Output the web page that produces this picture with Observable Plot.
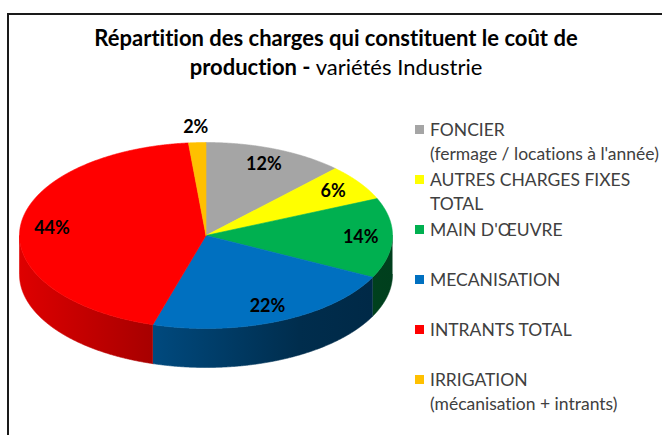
<!DOCTYPE html>
<html><head><meta charset="utf-8">
<script src="https://cdn.jsdelivr.net/npm/d3@7"></script>
<script src="https://cdn.jsdelivr.net/npm/@observablehq/plot@0.6"></script>
<style>
html,body{margin:0;padding:0;background:#fff;width:662px;height:435px;overflow:hidden;font-family:Lato,"Open Sans",sans-serif;font-variant-ligatures:none;}
#frame{position:absolute;left:7px;top:13px;width:720px;height:520px;border:2.5px solid #1a1a1a;box-sizing:border-box;}
#title{position:absolute;left:0;top:24px;width:672px;text-align:center;font-size:22px;line-height:28.5px;color:#000;}
#title b{font-weight:700;}
#chart{position:absolute;left:0;top:0;}
#legend{position:absolute;left:415px;top:0;}
.item{position:absolute;left:0;white-space:nowrap;font-size:17.5px;line-height:23.5px;color:#404040;}
.sw{position:absolute;left:0;top:7px;width:9px;height:9px;}
.lbl{position:absolute;left:15px;top:0;white-space:pre;}
</style></head>
<body>
<div id="frame"></div>
<div id="title"><b>Répartition des charges qui constituent le coût de<br>production -</b> variétés Industrie</div>
<div id="chart"></div>
<div id="legend"></div>
<script>
// ---- data ----
const categories = [
  "FONCIER\n(fermage / locations à l'année)",
  "AUTRES CHARGES FIXES\nTOTAL",
  "MAIN D'ŒUVRE",
  "MECANISATION",
  "INTRANTS TOTAL",
  "IRRIGATION\n(mécanisation + intrants)"
];
const shares = [12.2, 6.3, 13.9, 22.2, 43.9, 1.5];
const labels = ["12%", "6%", "14%", "22%", "44%", "2%"];
const colors = ["#a5a5a5", "#ffff00", "#00b050", "#0070c0", "#ff0000", "#ffc000"];

// ---- layout ----
const W = 662, H = 435;
const cx = 205.5, cy = 235, rx = 186.5, ry = 93, depth = 39;
const d = depth / ry;
const arcs = d3.pie().sort(null).value(v => v)(shares);
const step = Math.PI / 720;

function arcPts(a0, a1, off, k) {
  const n = Math.max(2, Math.ceil(Math.abs(a1 - a0) / step));
  const pts = [];
  for (let i = 0; i <= n; i++) {
    const a = a0 + (a1 - a0) * i / n;
    pts.push({x: Math.sin(a), y: Math.cos(a) - off, k});
  }
  return pts;
}

const topFaces = arcs.map((a, k) => [{x: 0, y: 0, k}, ...arcPts(a.startAngle, a.endAngle, 0, k), {x: 0, y: 0, k}]);
const walls = arcs.map((a, k) => {
  const s = Math.max(a.startAngle, Math.PI / 2), e = Math.min(a.endAngle, 3 * Math.PI / 2);
  if (s >= e) return null;
  return [...arcPts(s, e, 0, k), ...arcPts(e, s, d, k)];
}).filter(Boolean);

const labelData = arcs.map((a, k) => {
  const m = (a.startAngle + a.endAngle) / 2;
  const r = shares[k] < 3 ? 1.17 : 0.83;
  return {x: r * Math.sin(m), y: r * Math.cos(m), t: labels[k]};
});

const shade = [[0, 0.87], [0.35, 0.66], [0.75, 0.40], [1, 0.36]];

const defsMark = (index, scales) => {
  const x1 = scales && scales.x ? scales.x(-1) : cx - rx;
  const x2 = scales && scales.x ? scales.x(1) : cx + rx;
  const defs = d3.create("svg:defs");
  colors.forEach((c, k) => {
    const g = defs.append("linearGradient").attr("id", "wall" + k)
      .attr("gradientUnits", "userSpaceOnUse")
      .attr("x1", x1).attr("x2", x2).attr("y1", 0).attr("y2", 0);
    const base = d3.rgb(c);
    shade.forEach(([o, f]) => {
      g.append("stop").attr("offset", o)
        .attr("stop-color", d3.rgb(base.r * f, base.g * f, base.b * f).formatHex());
    });
  });
  return defs.node();
};

const plot = Plot.plot({
  width: W, height: H, margin: 0,
  x: {domain: [-1, 1], range: [cx - rx, cx + rx], axis: null},
  y: {domain: [-1, 1], range: [cy + ry, cy - ry], axis: null},
  style: {background: "transparent", fontFamily: "Lato, 'Open Sans', sans-serif"},
  marks: [
    defsMark,
    ...walls.map(w => Plot.line(w, {x: "x", y: "y", fill: `url(#wall${w[0].k})`, stroke: `url(#wall${w[0].k})`, strokeWidth: 0.6})),
    ...topFaces.map(f => Plot.line(f, {x: "x", y: "y", fill: colors[f[0].k], stroke: colors[f[0].k], strokeWidth: 0.6})),
    Plot.text(labelData, {x: "x", y: "y", text: "t", fontSize: 18, fontWeight: "bold", fill: "#000"})
  ]
});
document.getElementById("chart").appendChild(plot);

// ---- legend ----
const leg = d3.select("#legend");
categories.forEach((c, i) => {
  const it = leg.append("div").attr("class", "item").style("top", (130 + 50 * i - 11.75) + "px");
  it.append("div").attr("class", "sw").style("background", colors[i]);
  it.append("div").attr("class", "lbl").text(c);
});
</script>
</body></html>
